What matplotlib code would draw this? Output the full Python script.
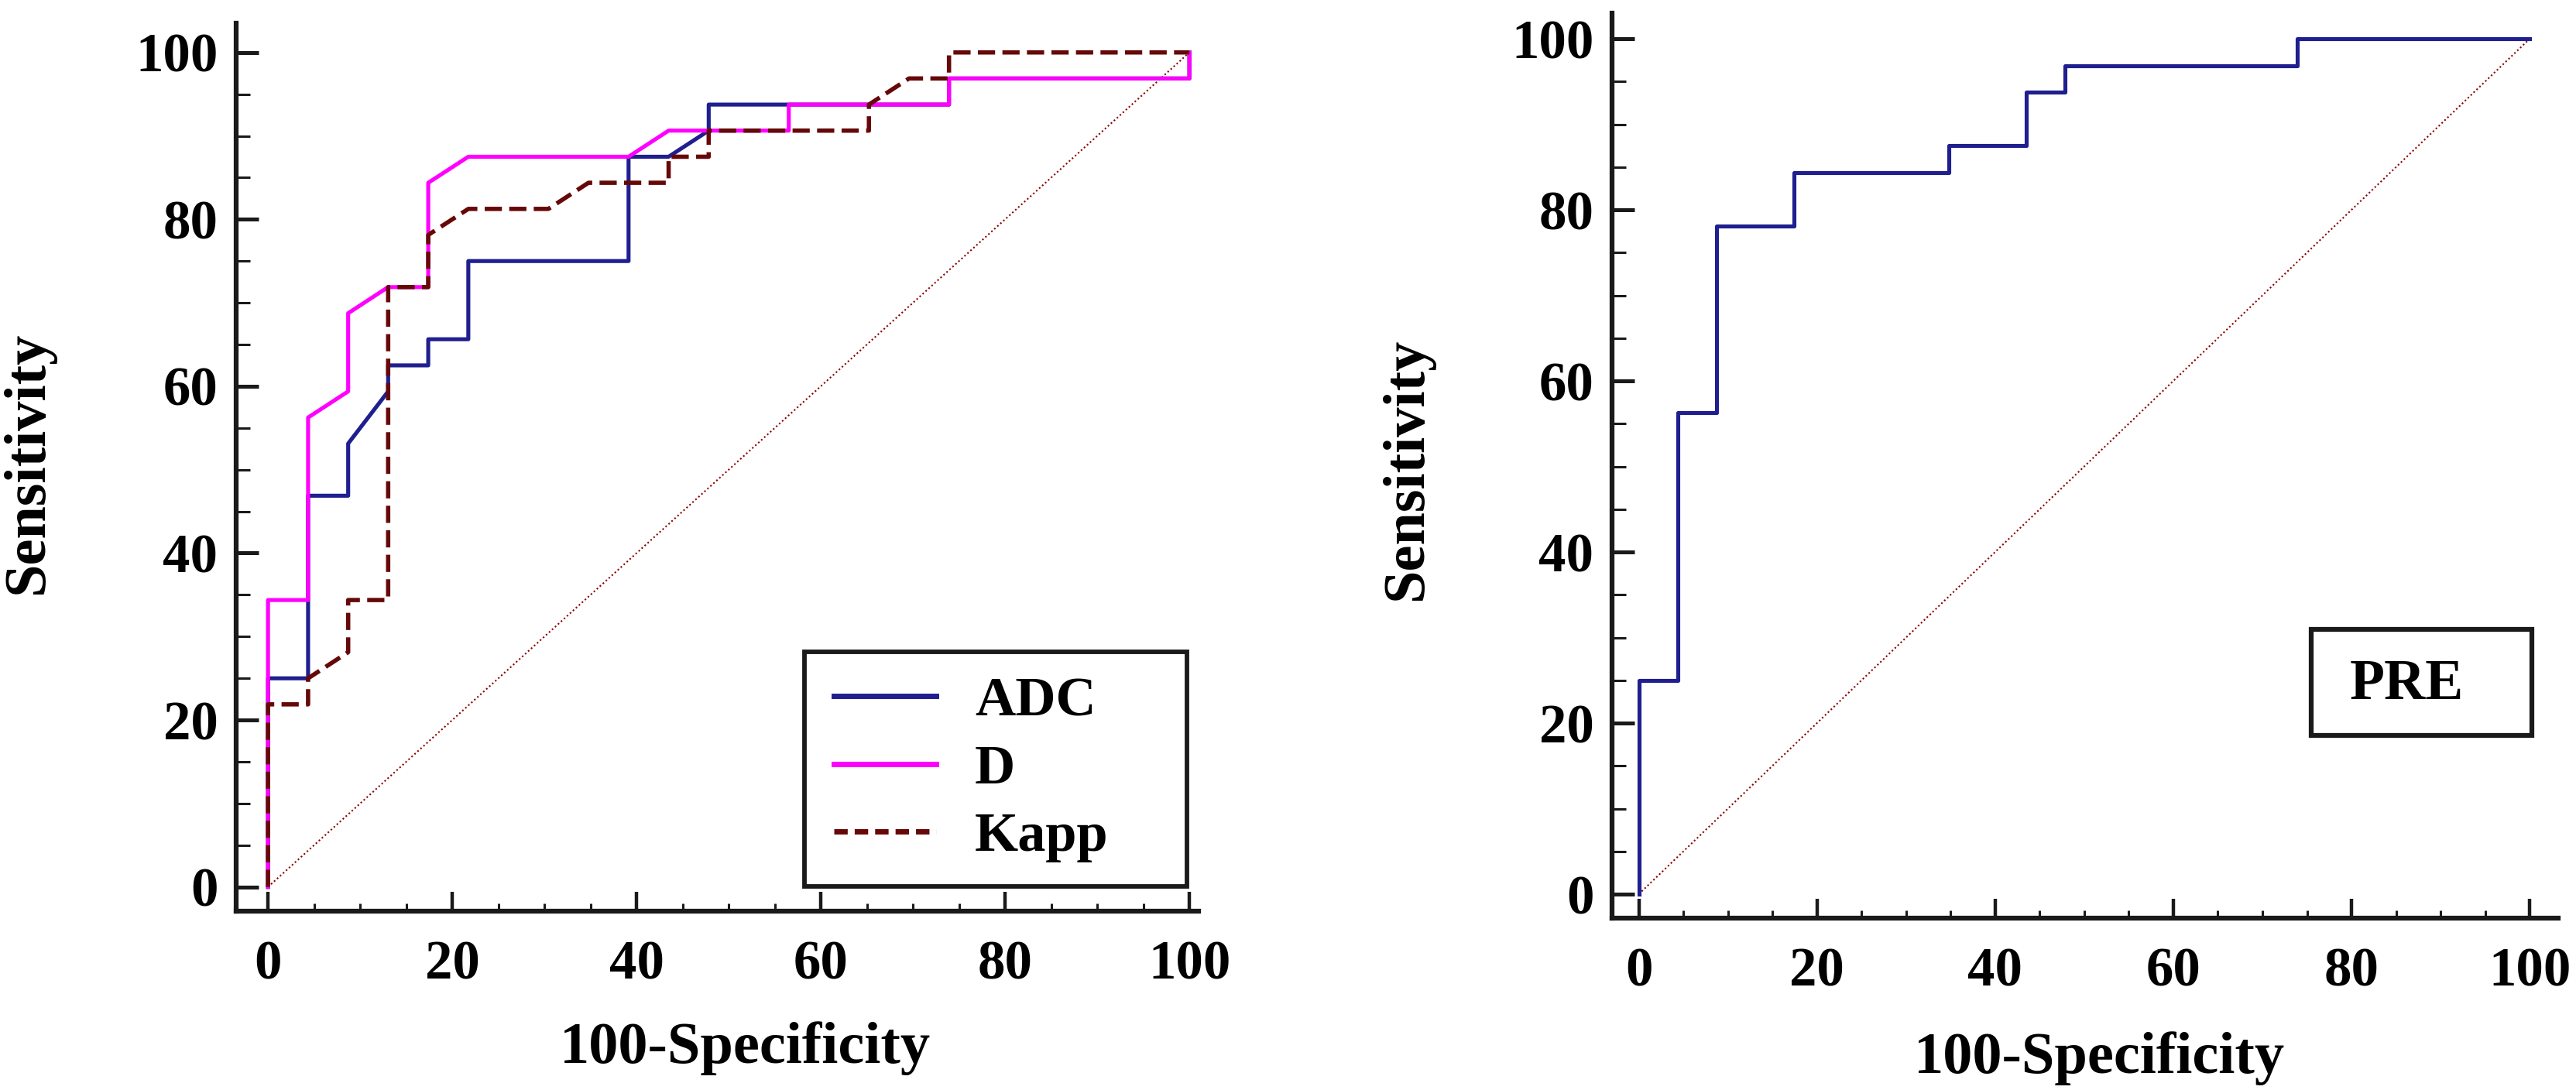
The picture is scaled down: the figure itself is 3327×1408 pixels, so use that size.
import matplotlib
matplotlib.use('Agg')
import matplotlib.pyplot as plt
from matplotlib.ticker import MultipleLocator
from matplotlib.patches import Rectangle

# ---------------- data ----------------
adc_x = [0, 0, 4.35, 4.35, 8.70, 8.70, 13.04, 13.04, 17.39, 17.39, 21.74, 21.74,
         39.13, 39.13, 43.48, 47.83, 47.83, 73.91, 73.91, 100, 100]
adc_y = [0, 25.00, 25.00, 46.88, 46.88, 53.13, 59.38, 62.50, 62.50, 65.63, 65.63, 75.00,
         75.00, 87.50, 87.50, 90.63, 93.75, 93.75, 96.88, 96.88, 100]

d_x = [0, 0, 4.35, 4.35, 8.70, 8.70, 13.04, 17.39, 17.39, 21.74, 39.13, 43.48,
       56.52, 56.52, 73.91, 73.91, 100, 100]
d_y = [0, 34.38, 34.38, 56.25, 59.38, 68.75, 71.88, 71.88, 84.38, 87.50, 87.50, 90.63,
       90.63, 93.75, 93.75, 96.88, 96.88, 100]

kapp_x = [0, 0, 4.35, 4.35, 8.70, 8.70, 13.04, 13.04, 17.39, 17.39, 21.74, 30.43,
          34.78, 43.48, 43.48, 47.83, 47.83, 65.22, 65.22, 69.57, 73.91, 73.91, 100]
kapp_y = [0, 21.88, 21.88, 25.00, 28.13, 34.38, 34.38, 71.88, 71.88, 78.13, 81.25, 81.25,
          84.38, 84.38, 87.50, 87.50, 90.63, 90.63, 93.75, 96.88, 96.88, 100, 100]

pre_x = [0, 0, 4.35, 4.35, 8.70, 8.70, 17.39, 17.39, 34.78, 34.78, 43.48, 43.48,
         47.83, 47.83, 73.91, 73.91, 100]
pre_y = [0, 25.00, 25.00, 56.25, 56.25, 78.13, 78.13, 84.38, 84.38, 87.50, 87.50, 93.75,
         93.75, 96.88, 96.88, 100, 100]

diag = [0, 100]

series_names = ['ADC', 'D', 'Kapp']
panel_label = 'PRE'
x_title = '100-Specificity'
y_title = 'Sensitivity'

# ---------------- style ----------------
plt.rcParams['font.family'] = ['Liberation Serif', 'DejaVu Serif']
plt.rcParams['font.weight'] = 'bold'

BLUE = '#1f1f8f'
MAGENTA = '#ff00ff'
MAROON = '#660808'
DIAG = '#8b0000'
AX = '#1a1a1a'

W, H = 3327, 1408
fig = plt.figure(figsize=(W / 100, H / 100), dpi=100)


def make_axes(rect, xlim, ylim):
    ax = fig.add_axes(rect)
    ax.set_xlim(*xlim)
    ax.set_ylim(*ylim)
    for s in ['top', 'right']:
        ax.spines[s].set_visible(False)
    for s in ['left', 'bottom']:
        ax.spines[s].set_linewidth(4.5)
        ax.spines[s].set_color(AX)
        ax.spines[s].set_capstyle('projecting')
    for axis in (ax.xaxis, ax.yaxis):
        axis.set_major_locator(MultipleLocator(20))
        axis.set_minor_locator(MultipleLocator(5))
    ax.tick_params(axis='x', which='major', direction='in', length=18, width=3.2,
                   pad=27, labelsize=51, color=AX)
    ax.tick_params(axis='x', which='minor', direction='in', length=7, width=2.2, color=AX)
    ax.tick_params(axis='y', which='major', direction='in', length=21, width=3.6,
                   pad=17, labelsize=51, color=AX)
    ax.tick_params(axis='y', which='minor', direction='in', length=13, width=2.2, color=AX)
    ax.set_facecolor('none')
    return ax


# ---------------- left panel ----------------
ax1 = make_axes([0.0917, 0.1641, 0.3736, 0.8146], (-3.45, 101), (-2.9, 103.5))
ax1.plot(diag, diag, color=DIAG, lw=1.5, ls=(0, (1, 1.5)), zorder=1)
l_adc, = ax1.plot(adc_x, adc_y, color=BLUE, lw=3.7, zorder=2, label=series_names[0])
l_d, = ax1.plot(d_x, d_y, color=MAGENTA, lw=3.7, zorder=3, label=series_names[1])
l_k, = ax1.plot(kapp_x, kapp_y, color=MAROON, lw=4.0, ls=(0, (4, 1.7)), zorder=4,
                label=series_names[2])

ax1.add_patch(Rectangle((58.2, 0.1), 41.55, 28.05, transform=ax1.transData,
                        facecolor='white', edgecolor=AX, lw=4.2, zorder=5, clip_on=False))
leg = ax1.legend(handles=[l_adc, l_d, l_k], loc='center left',
                 bbox_to_anchor=(0.621, 0.1595), frameon=False, borderpad=0,
                 borderaxespad=0, handlelength=1.83, handletextpad=0.69,
                 labelspacing=0.3, prop={'weight': 'bold', 'size': 52})
leg.set_zorder(6)
leg_lines = leg.get_lines()
for ln in leg_lines:
    ln.set_linewidth(5)
leg_lines[2].set_linestyle((0, (2.5, 1.3)))

ax1.set_xlabel(x_title, fontsize=55, fontweight='bold', va='baseline')
ax1.xaxis.set_label_coords(0.529, -0.1709)
ax1.set_ylabel(y_title, fontsize=55, fontweight='bold')
ax1.yaxis.label.set_va('baseline')
ax1.yaxis.set_label_coords(-0.2011, 0.505)

# ---------------- right panel ----------------
ax2 = make_axes([0.6258, 0.1577, 0.3673, 0.8303], (-3.0, 103.2), (-2.8, 103.0))
ax2.plot(diag, diag, color=DIAG, lw=1.5, ls=(0, (1, 1.5)), zorder=1)
ax2.plot(pre_x, pre_y, color=BLUE, lw=3.7, zorder=2)
ax2.add_patch(Rectangle((75.5, 18.55), 24.7, 12.4, transform=ax2.transData,
                        facecolor='white', edgecolor=AX, lw=4.5, zorder=5, clip_on=False))
ax2.text(86.2, 22.8, panel_label, ha='center', va='baseline', fontsize=53,
         fontweight='bold', zorder=6)

ax2.set_xlabel(x_title, fontsize=55, fontweight='bold', va='baseline')
ax2.xaxis.set_label_coords(0.5147, -0.1711)
ax2.set_ylabel(y_title, fontsize=55, fontweight='bold')
ax2.yaxis.label.set_va('baseline')
ax2.yaxis.set_label_coords(-0.2013, 0.497)

fig.savefig('out.png', dpi=100, facecolor='white')
